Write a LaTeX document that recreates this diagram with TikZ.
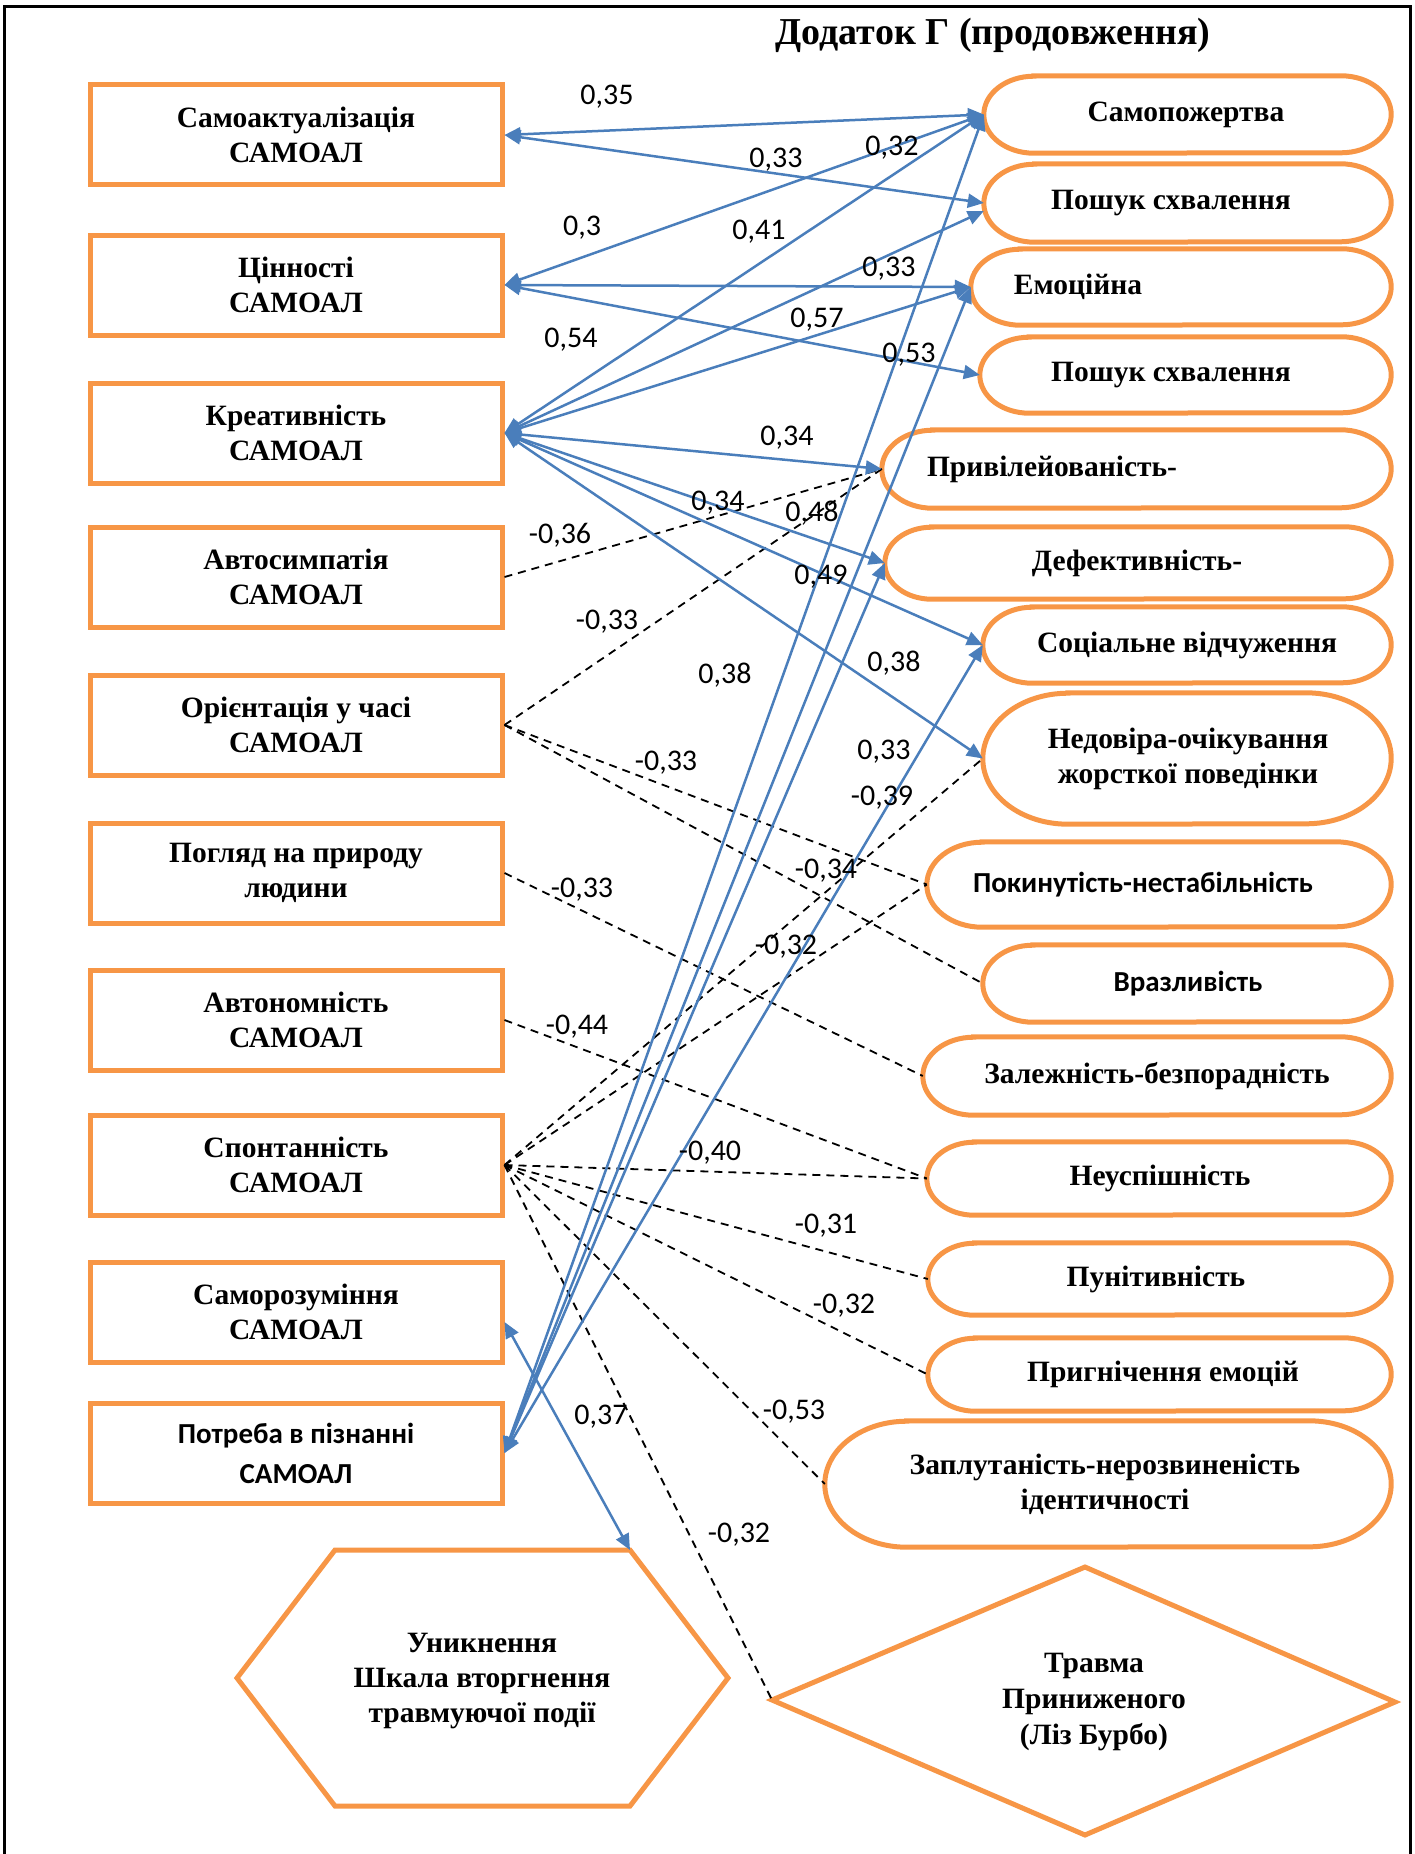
\documentclass[tikz,border=0pt]{standalone}
\usepackage{fontspec}
\setmainfont{Liberation Serif}
\newfontfamily\calfont{Carlito}
\usetikzlibrary{arrows.meta,calc}
\definecolor{myorange}{HTML}{F79646}
\definecolor{myblue}{HTML}{4A7EBB}
\tikzset{
  oline/.style={draw=myorange,line width=5pt},
  lbox/.style={oline,fill=white,minimum width=412pt,minimum height=100pt,inner sep=0pt,align=center,font=\fontsize{29.5}{35}\selectfont\bfseries},
  ptext/.style={inner sep=0pt,align=center,font=\fontsize{29.5}{35}\selectfont\bfseries},
  lab/.style={inner sep=0pt,font=\calfont\fontsize{30}{32}\selectfont},
  bl/.style={draw=myblue,line width=2.5pt,{Triangle[length=16pt,width=14pt]}-{Triangle[length=16pt,width=14pt]}},
  dl/.style={draw=black,line width=1.8pt,dash pattern=on 8pt off 6pt},
}
\newcommand\pillnode[7]{%
  \node[draw=none,inner sep=0pt,minimum width={#4pt-#2pt},minimum height={#5pt-#3pt}] (#1) at ({(#2+#4)/2},{-(#3+#5)/2}) {};
  \pgfmathsetmacro\pillrx{0.65*(#5-#3)}%
  \pgfmathsetmacro\pillry{(#5-#3)/2}%
  \draw[oline,fill=white] ([xshift=\pillrx pt]#1.north west) -- ([xshift=-\pillrx pt]#1.north east) arc[start angle=90,end angle=-90,x radius=\pillrx pt,y radius=\pillry pt] -- ([xshift=\pillrx pt]#1.south west) arc[start angle=270,end angle=90,x radius=\pillrx pt,y radius=\pillry pt] -- cycle;
  \node[ptext] (#1-t) at (#6,{-(#3+#5)/2}) {#7};
}
\begin{document}
\begin{tikzpicture}[x=1pt,y=1pt]
\useasboundingbox (0,0) rectangle (1414,-1854);
\draw[line width=3pt] (4.5,-1854) -- (4.5,-7) -- (1410,-7) -- (1410,-1854);
\node[ptext,font=\fontsize{38}{42}\selectfont\bfseries] (title) at (993,-35) {Додаток Г (продовження)};

% left boxes
\node[lbox] (sa) at (296,-135) {Самоактуалізація\\САМОАЛ};
\node[lbox] (cin) at (296,-285) {Цінності\\САМОАЛ};
\node[lbox] (kre) at (296,-433) {Креативність\\САМОАЛ};
\node[lbox] (avs) at (296,-577) {Автосимпатія\\САМОАЛ};
\node[lbox] (ori) at (296,-725) {Орієнтація у часі\\САМОАЛ};
\node[lbox] (pog) at (296,-873) {Погляд на природу\\людини};
\node[lbox] (avt) at (296,-1020) {Автономність\\САМОАЛ};
\node[lbox] (spo) at (296,-1165) {Спонтанність\\САМОАЛ};
\node[lbox] (sar) at (296,-1312) {Саморозуміння\\САМОАЛ};
\node[lbox,font=\calfont\fontsize{29}{40}\selectfont\bfseries] (pot) at (296,-1453) {Потреба в пізнанні\\САМОАЛ};

% right pills
\pillnode{sp}{984}{76}{1391}{153}{1186}{Самопожертва}
\pillnode{psa}{984}{164}{1391}{242}{1171}{Пошук схвалення}
\pillnode{em}{971}{249}{1391}{325}{1078}{Емоційна}
\pillnode{psb}{980}{337}{1391}{413}{1171}{Пошук схвалення}
\pillnode{pr}{882}{430}{1391}{508}{1052}{Привілейованість-}
\pillnode{de}{885}{527}{1391}{599}{1137}{Дефективність-}
\pillnode{so}{983}{607}{1391}{683}{1187}{Соціальне відчуження}
\pillnode{ne}{983}{693}{1391}{824}{1188}{Недовіра-очікування\\жорсткої поведінки}
\pillnode{po}{927}{842}{1391}{927}{1143}{{\calfont\fontsize{29}{35}\selectfont Покинутість-нестабільність}}
\pillnode{vr}{983}{945}{1391}{1022}{1188}{{\calfont\fontsize{29}{35}\selectfont Вразливість}}
\pillnode{za}{923}{1037}{1391}{1115}{1157}{Залежність-безпорадність}
\pillnode{nu}{927}{1142}{1391}{1215}{1160}{Неуспішність}
\pillnode{pu}{928}{1243}{1391}{1315}{1156}{Пунітивність}
\pillnode{pg}{928}{1338}{1391}{1411}{1163}{Пригнічення емоцій}
\pillnode{zp}{825}{1421}{1391}{1547}{1105}{Заплутаність-нерозвиненість\\ідентичності}

% hexagon
\draw[oline,fill=white] (335,-1550) -- (630,-1550) -- (728,-1678) -- (630,-1806) -- (335,-1806) -- (237,-1678) -- cycle;
\coordinate (hexTR) at (630,-1550);
\node[ptext] (hex) at (482,-1681) {Уникнення\\Шкала вторгнення\\травмуючої події};

% diamond
\draw[oline,fill=white] (772,-1700) -- (1085,-1567) -- (1395,-1702) -- (1085,-1835) -- cycle;
\coordinate (diaW) at (772,-1700);
\node[ptext,font=\fontsize{29.5}{36}\selectfont\bfseries] (dia) at (1094,-1702) {Травма\\Приниженого\\(Ліз Бурбо)};

% dashed connectors
\draw[dl] (avs.east) -- (pr.west);
\draw[dl] (ori.east) -- (pr.west);
\draw[dl] (ori.east) -- (po.west);
\draw[dl] (ori.east) -- (vr.west);
\draw[dl] (pog.east) -- (za.west);
\draw[dl] (avt.east) -- (nu.west);
\draw[dl] (spo.east) -- (ne.west);
\draw[dl] (spo.east) -- (po.west);
\draw[dl] (spo.east) -- (nu.west);
\draw[dl] (spo.east) -- (pu.west);
\draw[dl] (spo.east) -- (pg.west);
\draw[dl] (spo.east) -- (zp.west);
\draw[dl] (spo.east) -- (diaW);

% blue connectors
\draw[bl] (sa.east) -- (sp.west);
\draw[bl] (sa.east) -- (psa.west);
\draw[bl] (cin.east) -- (sp.west);
\draw[bl] (cin.east) -- (em.west);
\draw[bl] (cin.east) -- (psb.west);
\draw[bl] (kre.east) -- (sp.west);
\draw[bl] (kre.east) -- ([yshift=-8pt]psa.west);
\draw[bl] (kre.east) -- (em.west);
\draw[bl] (kre.east) -- (pr.west);
\draw[bl] (kre.east) -- (de.west);
\draw[bl] (kre.east) -- (so.west);
\draw[bl] (kre.east) -- (ne.west);
\draw[bl] (pot.east) -- (sp.west);
\draw[bl] (pot.east) -- (em.west);
\draw[bl] (pot.east) -- (de.west);
\draw[bl] (pot.east) -- (so.west);
\draw[bl] ([yshift=-10pt]sar.east) -- (hexTR);

% labels
\node[lab] (l01) at (607,-97) {0,35};
\node[lab] (l02) at (776,-160) {0,33};
\node[lab] (l03) at (892,-148) {0,32};
\node[lab] (l04) at (582,-228) {0,3};
\node[lab] (l05) at (759,-232) {0,41};
\node[lab] (l06) at (889,-269) {0,33};
\node[lab] (l07) at (817,-320) {0,57};
\node[lab] (l08) at (571,-340) {0,54};
\node[lab] (l09) at (909,-355) {0,53};
\node[lab] (l10) at (787,-438) {0,34};
\node[lab] (l11) at (718,-503) {0,34};
\node[lab] (l12) at (812,-513) {0,48};
\node[lab] (l13) at (560,-535) {-0,36};
\node[lab] (l14) at (821,-577) {0,49};
\node[lab] (l15) at (607,-622) {-0,33};
\node[lab] (l16) at (725,-675) {0,38};
\node[lab] (l17) at (894,-663) {0,38};
\node[lab] (l18) at (666,-763) {-0,33};
\node[lab] (l19) at (884,-752) {0,33};
\node[lab] (l20) at (882,-798) {-0,39};
\node[lab] (l21) at (826,-871) {-0,34};
\node[lab] (l22) at (582,-890) {-0,33};
\node[lab] (l23) at (786,-947) {-0,32};
\node[lab] (l24) at (577,-1027) {-0,44};
\node[lab] (l25) at (710,-1153) {-0,40};
\node[lab] (l26) at (826,-1226) {-0,31};
\node[lab] (l27) at (844,-1306) {-0,32};
\node[lab] (l28) at (794,-1412) {-0,53};
\node[lab] (l29) at (601,-1417) {0,37};
\node[lab] (l30) at (739,-1535) {-0,32};
\end{tikzpicture}
\end{document}
